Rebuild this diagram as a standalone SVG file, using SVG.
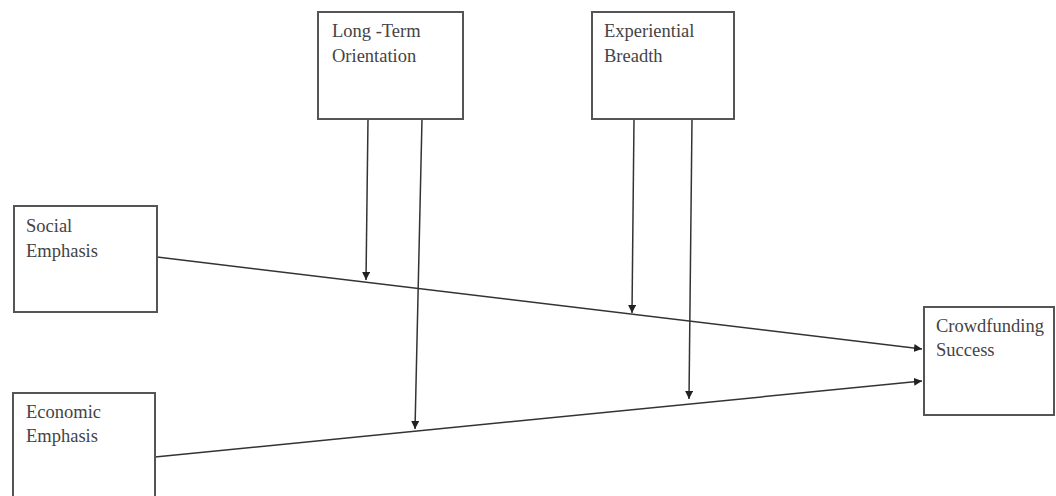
<svg xmlns="http://www.w3.org/2000/svg" width="1056" height="496" viewBox="0 0 1056 496">
<style>
.box{fill:#fff;stroke:#555;stroke-width:2}
.lbl{font-family:"Liberation Serif","Times New Roman",serif;font-size:18.5px;fill:#444}
.ln{stroke:#333;stroke-width:1.5;fill:none;marker-end:url(#ah)}
</style>
<defs>
<marker id="ah" viewBox="0 0 10 10" refX="10" refY="5" markerWidth="8" markerHeight="8" markerUnits="userSpaceOnUse" orient="auto">
<path d="M0,0 L10,5 L0,10 z" fill="#222"/>
</marker>
</defs>
<rect width="1056" height="496" fill="#fff"/>
<g id="connectors">
<line class="ln" x1="157" y1="257" x2="922" y2="349"/>
<line class="ln" x1="155" y1="457" x2="922" y2="381"/>
<line class="ln" x1="368" y1="119" x2="366" y2="280"/>
<line class="ln" x1="422" y1="119" x2="415" y2="429"/>
<line class="ln" x1="634" y1="119" x2="632" y2="313"/>
<line class="ln" x1="692" y1="119" x2="689" y2="399"/>
</g>
<g id="long-term">
<rect class="box" x="318" y="12" width="145" height="107"/>
<text class="lbl" x="332" y="37">Long -Term</text>
<text class="lbl" x="332" y="62">Orientation</text>
</g>
<g id="experiential">
<rect class="box" x="592" y="12" width="142" height="107"/>
<text class="lbl" x="604" y="37">Experiential</text>
<text class="lbl" x="604" y="62">Breadth</text>
</g>
<g id="social">
<rect class="box" x="14" y="206" width="143" height="106"/>
<text class="lbl" x="26" y="232">Social</text>
<text class="lbl" x="26" y="257">Emphasis</text>
</g>
<g id="economic">
<rect class="box" x="13" y="393" width="142" height="120"/>
<text class="lbl" x="26" y="418">Economic</text>
<text class="lbl" x="26" y="442">Emphasis</text>
</g>
<g id="crowdfunding">
<rect class="box" x="924" y="307" width="130" height="108"/>
<text class="lbl" x="936" y="332">Crowdfunding</text>
<text class="lbl" x="936" y="356">Success</text>
</g>
</svg>
